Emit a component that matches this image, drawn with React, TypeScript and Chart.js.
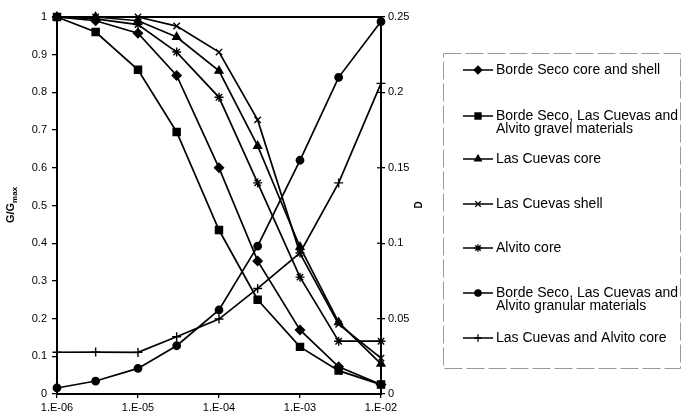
import React, { useEffect, useRef } from "react";
import { Chart, registerables } from "chart.js";
import { drawPoint } from "chart.js/helpers";
Chart.register(...registerables);

// ---- data ----
const strain = [1e-6, 3e-6, 1e-5, 3e-5, 1e-4, 3e-4, 1e-3, 3e-3, 1e-2];
const xTickValues = [1e-6, 1e-5, 1e-4, 1e-3, 1e-2];
const xTickLabels = ["1.E-06", "1.E-05", "1.E-04", "1.E-03", "1.E-02"];

const bordeCoreShell = [1, 0.99, 0.957, 0.845, 0.6, 0.353, 0.17, 0.072, 0.025];
const gravelMaterials = [1, 0.96, 0.86, 0.695, 0.435, 0.25, 0.125, 0.062, 0.025];
const lasCuevasCore = [1, 1, 0.99, 0.947, 0.857, 0.658, 0.39, 0.19, 0.08];
const lasCuevasShell = [1, 1, 1, 0.976, 0.907, 0.727, 0.373, 0.185, 0.095];
const alvitoCore = [1, 0.995, 0.98, 0.907, 0.787, 0.56, 0.31, 0.14, 0.14];
const granularD = [0.004, 0.0086, 0.017, 0.032, 0.0557, 0.098, 0.155, 0.21, 0.247];
const lasCuevasAlvitoCoreD = [0.0277, 0.0278, 0.0276, 0.038, 0.0497, 0.07, 0.0935, 0.14, 0.206];

const seriesLabels = [
  "Borde Seco core and shell",
  "Borde Seco, Las Cuevas and Alvito gravel materials",
  "Las Cuevas core",
  "Las Cuevas shell",
  "Alvito core",
  "Borde Seco, Las Cuevas and Alvito granular materials",
  "Las Cuevas and Alvito core",
];
const legendLines = [
  ["Borde Seco core and shell"],
  ["Borde Seco, Las Cuevas and", "Alvito gravel materials"],
  ["Las Cuevas core"],
  ["Las Cuevas shell"],
  ["Alvito core"],
  ["Borde Seco, Las Cuevas and", "Alvito granular materials"],
  ["Las Cuevas and Alvito core"],
];

const FONT = "'Liberation Sans', Arial, sans-serif";

const toPts = (vals: number[]) => strain.map((x, i) => ({ x, y: vals[i] }));
const fmt = (v: any) => String(Number(Number(v).toFixed(3)));

const mk = (label: string, vals: number[], style: string, r: number, axis: string) => ({
  label,
  data: toPts(vals),
  yAxisID: axis,
  borderColor: "#000",
  backgroundColor: "#000",
  borderWidth: 1.7,
  pointStyle: style,
  pointRadius: r,
  pointBorderWidth: 1.4,
  pointBackgroundColor: "#000",
  pointBorderColor: "#000",
  tension: 0,
  clip: false as any,
});

const framePlugin = {
  id: "frame",
  beforeDatasetsDraw(chart: any) {
    const { ctx, chartArea: a } = chart;
    ctx.save();
    ctx.strokeStyle = "#000";
    ctx.lineWidth = 2;
    ctx.strokeRect(a.left, a.top, a.right - a.left, a.bottom - a.top);
    const y1 = chart.scales.y1;
    ctx.lineWidth = 1.2;
    y1.ticks.forEach((t: any) => {
      const py = y1.getPixelForValue(t.value);
      ctx.beginPath();
      ctx.moveTo(a.right - 4, py);
      ctx.lineTo(a.right, py);
      ctx.stroke();
    });
    ctx.restore();
  },
  afterDraw(chart: any) {
    const { ctx } = chart;
    ctx.save();
    ctx.fillStyle = "#000";
    ctx.translate(11, 205);
    ctx.rotate(-Math.PI / 2);
    ctx.textBaseline = "middle";
    ctx.textAlign = "left";
    ctx.font = `bold 11px ${FONT}`;
    const w1 = ctx.measureText("G/G").width;
    ctx.font = `bold 8px ${FONT}`;
    const w2 = ctx.measureText("max").width;
    const start = -(w1 + w2) / 2;
    ctx.font = `bold 11px ${FONT}`;
    ctx.fillText("G/G", start, 0);
    ctx.font = `bold 8px ${FONT}`;
    ctx.fillText("max", start + w1, 4);
    ctx.restore();

    ctx.save();
    ctx.fillStyle = "#000";
    ctx.translate(419, 205);
    ctx.rotate(-Math.PI / 2);
    ctx.textBaseline = "middle";
    ctx.textAlign = "center";
    ctx.font = `bold 10px ${FONT}`;
    ctx.fillText("D", 0, 0);
    ctx.restore();

    const itemY = [70, 116, 159, 204, 248, 293, 338];
    ctx.save();
    ctx.strokeStyle = "#999";
    ctx.lineWidth = 1;
    ctx.setLineDash([18, 4]);
    ctx.strokeRect(443.5, 53.5, 237, 315);
    ctx.setLineDash([]);
    chart.data.datasets.forEach((ds: any, i: number) => {
      const y = itemY[i];
      ctx.strokeStyle = "#000";
      ctx.lineWidth = 1.5;
      ctx.beginPath();
      ctx.moveTo(463, y);
      ctx.lineTo(493, y);
      ctx.stroke();
      ctx.fillStyle = "#000";
      ctx.lineWidth = 1.3;
      drawPoint(ctx, { pointStyle: ds.pointStyle, radius: ds.pointRadius * 0.85, borderWidth: 1.3, rotation: 0 } as any, 478, y);
      ctx.fillStyle = "#000";
      ctx.font = `14px ${FONT}`;
      ctx.textAlign = "left";
      ctx.textBaseline = "middle";
      legendLines[i].forEach((line, j) => ctx.fillText(line, 496, y + j * 13));
    });
    ctx.restore();
  },
};

export default function App() {
  const ref = useRef<HTMLCanvasElement>(null);
  useEffect(() => {
    document.body.style.margin = "0";
    const chart = new Chart(ref.current!, {
      type: "line",
      data: {
        datasets: [
          mk(seriesLabels[0], bordeCoreShell, "rectRot", 4.5, "y"),
          mk(seriesLabels[1], gravelMaterials, "rect", 5, "y"),
          mk(seriesLabels[2], lasCuevasCore, "triangle", 4.5, "y"),
          mk(seriesLabels[3], lasCuevasShell, "crossRot", 4.5, "y"),
          mk(seriesLabels[4], alvitoCore, "star", 4.5, "y"),
          mk(seriesLabels[5], granularD, "circle", 3.7, "y1"),
          mk(seriesLabels[6], lasCuevasAlvitoCoreD, "cross", 4.5, "y1"),
        ] as any,
      },
      options: {
        responsive: false,
        animation: false,
        layout: { padding: { left: 0, right: 268, top: 17, bottom: 0 } },
        plugins: { legend: { display: false }, tooltip: { enabled: false } },
        scales: {
          x: {
            type: "logarithmic",
            min: 1e-6,
            max: 1e-2,
            afterBuildTicks: (s: any) => {
              s.ticks = xTickValues.map((v) => ({ value: v, major: true }));
            },
            afterFit: (s: any) => {
              s.height = 22;
            },
            ticks: {
              autoSkip: false,
              maxRotation: 0,
              padding: 3,
              color: "#000",
              font: { family: FONT, size: 11 },
              callback: (_v: any, i: number) => xTickLabels[i],
            },
            grid: { drawOnChartArea: false, tickLength: 4, color: "#000", lineWidth: 1.3 },
            border: { color: "#000", width: 2 },
          },
          y: {
            position: "left",
            min: 0,
            max: 1,
            ticks: { stepSize: 0.1, padding: 5, color: "#000", font: { family: FONT, size: 11 }, callback: fmt },
            afterFit: (s: any) => {
              s.width = 57;
            },
            grid: { drawOnChartArea: false, tickLength: 5, color: "#000", lineWidth: 1.3 },
            border: { color: "#000", width: 2 },
          },
          y1: {
            position: "right",
            min: 0,
            max: 0.25,
            ticks: { stepSize: 0.05, padding: 3, color: "#000", font: { family: FONT, size: 11 }, callback: fmt },
            afterFit: (s: any) => {
              s.width = 45;
            },
            grid: { drawOnChartArea: false, tickLength: 4, color: "#000", lineWidth: 1.3 },
            border: { color: "#000", width: 2 },
          },
        },
      } as any,
      plugins: [framePlugin],
    });
    return () => chart.destroy();
  }, []);
  return <canvas ref={ref} width={694} height={416} style={{ display: "block" }} />;
}
